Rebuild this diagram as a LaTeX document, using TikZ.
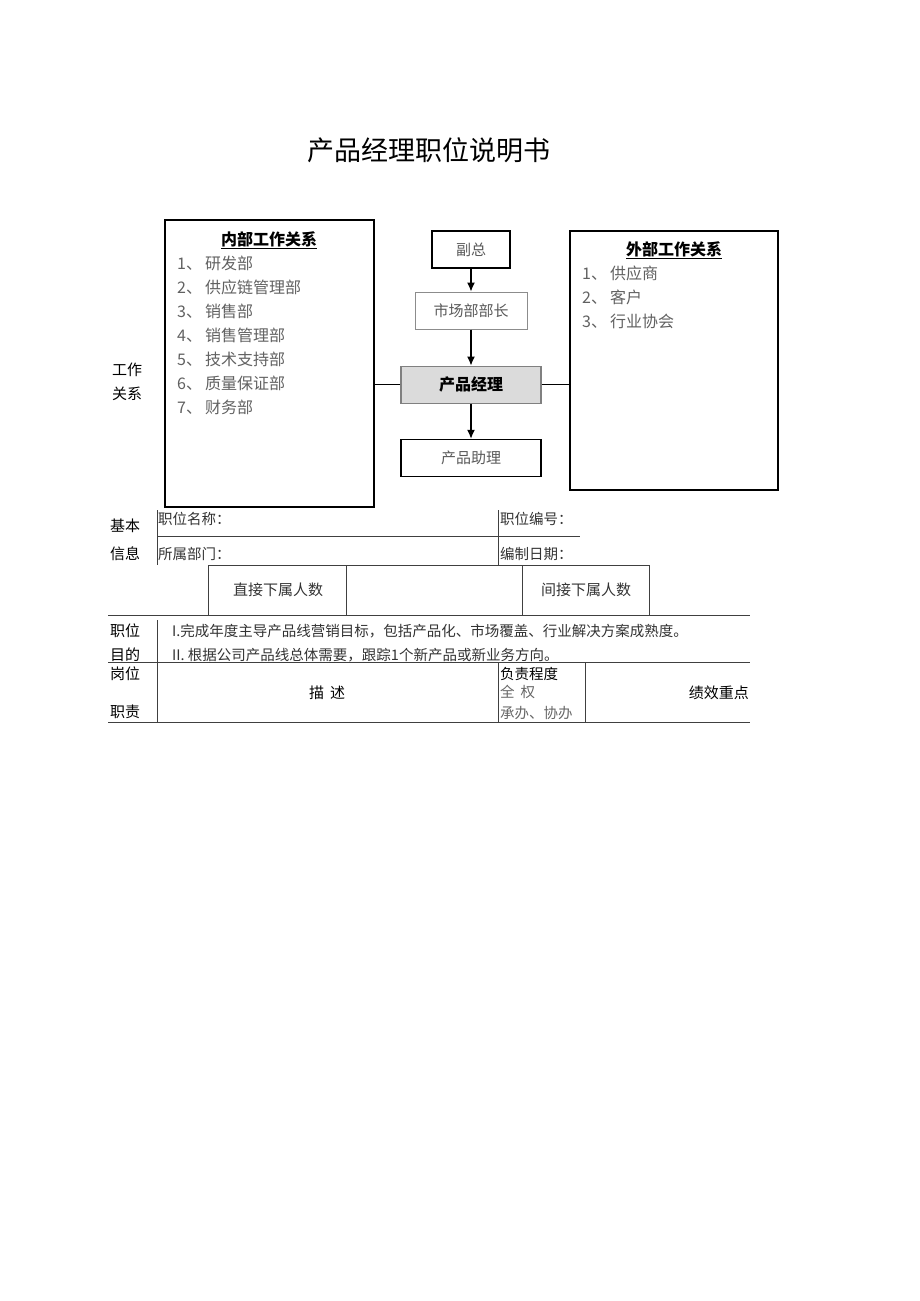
\documentclass[tikz,border=0pt]{standalone}
\usepackage{fontspec}
\setmainfont{Noto Sans CJK SC}
\usetikzlibrary{positioning,arrows.meta}

\tikzset{
    box/.style={draw,line width=1.2pt,minimum height=37pt,inner sep=0pt,font=\fontsize{15}{15}\selectfont,text=black!65},
    item/.style={anchor=west,inner sep=0pt,font=\fontsize{16}{16}\selectfont,text=black!62},
    lbl/.style={inner sep=0pt,font=\fontsize{15}{15}\selectfont},
    cell/.style={anchor=west,inner sep=0pt,font=\fontsize{14.5}{14.5}\selectfont,text=black!80},
    rule/.style={line width=0.8pt,draw=black!75},
    flow/.style={-{Latex[length=9pt,width=8pt]},line width=1.4pt}
}

\begin{document}
\begin{tikzpicture}[x=1pt,y=-1pt]
    \useasboundingbox (0,0) rectangle (920,1301);

    \node[font=\fontsize{27}{27}\selectfont](title) at (429,150){产品经理职位说明书};

    % work relations
    \node[draw,line width=1.2pt,minimum width=209pt,minimum height=287pt](inner) at (269.5,363.5){};
    \node[draw,line width=1.2pt,minimum width=208pt,minimum height=259pt](outer) at (674,360.5){};
    \node[inner sep=0pt,font=\fontsize{16}{16}\selectfont\bfseries](innerhead) at (269,240){\underline{内部工作关系}};
    \node[inner sep=0pt,font=\fontsize{16}{16}\selectfont\bfseries](outerhead) at (674,250){\underline{外部工作关系}};
    \foreach \t [count=\i] in {研发部,供应链管理部,销售部,销售管理部,技术支持部,质量保证部,财务部}
        \node[item](in\i) at (177,239+24*\i){\i、\hspace{3pt}\t};
    \foreach \t [count=\i] in {供应商,客户,行业协会}
        \node[item](out\i) at (582,249+24*\i){\i、\hspace{3pt}\t};
    \node[lbl](rel1) at (127,370){工作};
    \node[lbl](rel2) at (127,394){关系};

    \node[box,minimum width=78pt](vp) at (471,249.5){副总};
    \node[box,minimum width=112pt,draw=black!45,line width=1pt](mkt)[below=23pt of vp]{市场部部长};
    \node[box,minimum width=140pt,fill=black!14,draw=black!50,text=black,font=\fontsize{16}{16}\selectfont\bfseries](mgr)[below=36pt of mkt]{产品经理};
    \node[box,minimum width=140pt](asst)[below=35pt of mgr]{产品助理};
    \draw[flow](vp)--(mkt);
    \draw[flow](mkt)--(mgr);
    \draw[flow](mgr)--(asst);
    \draw[line width=1pt](mgr.west)--(mgr.west -| inner.east);
    \draw[line width=1pt](mgr.east)--(mgr.east -| outer.west);

    % basic info
    \node[lbl](basic1) at (125,526){基本};
    \node[lbl](basic2) at (125,554){信息};
    \node[cell](name) at (158,519){职位名称：};
    \node[cell](code) at (500,519){职位编号：};
    \node[cell](dept) at (158,554){所属部门：};
    \node[cell](date) at (500,554){编制日期：};
    \draw[rule](157,510)--(157,565);
    \draw[rule](498,510)--(498,565);
    \draw[rule](157,536)--(580,536);
    \draw[rule](208,565) rectangle (649,615);
    \draw[rule](346,565)--(346,615);
    \draw[rule](522,565)--(522,615);
    \node[lbl,text=black!80](direct) at (278,590){直接下属人数};
    \node[lbl,text=black!80](indirect) at (586,590){间接下属人数};

    % purpose
    \draw[rule](108,615)--(750,615);
    \node[lbl](aim1) at (125,631){职位};
    \node[lbl](aim2) at (125,655){目的};
    \draw[rule](157,620)--(157,662);
    \node[cell](aimA) at (172,631){I.完成年度主导产品线营销目标，包括产品化、市场覆盖、行业解决方案成熟度。};
    \node[cell](aimB) at (172,655){II. 根据公司产品线总体需要，跟踪1个新产品或新业务方向。};

    % duties
    \draw[rule](108,662)--(750,662);
    \draw[rule](108,722)--(750,722);
    \foreach \x in {157,498,585}
        \draw[rule](\x,662)--(\x,722);
    \node[lbl](duty1) at (125,674){岗位};
    \node[lbl](duty2) at (125,712){职责};
    \node[lbl](desc) at (327,693){描\hspace{6pt}述};
    \node[cell,text=black](degree) at (500,674){负责程度};
    \node[cell,text=black!60](full) at (500,692){全\hspace{6pt}权};
    \node[cell,text=black!60](assist) at (500,713){承办、协办};
    \node[lbl,anchor=east](kpi) at (749,693){绩效重点};
\end{tikzpicture}
\end{document}
